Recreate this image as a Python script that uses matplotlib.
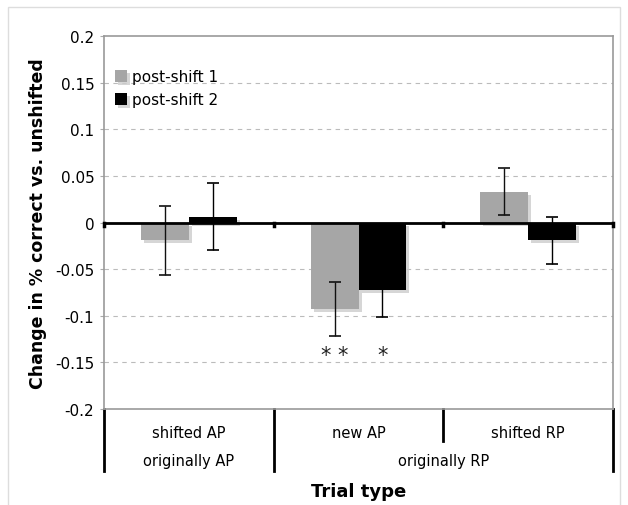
import numpy as np
import matplotlib
matplotlib.use('Agg')
import matplotlib.pyplot as plt
import matplotlib.patheffects as pe
from matplotlib.patches import Rectangle
from matplotlib.transforms import blended_transform_factory

plt.rcParams['font.family'] = ['DejaVu Sans']

trial_types = ['shifted AP', 'new AP', 'shifted RP']
origins = ['originally AP', 'originally RP']
series_names = ['post-shift 1', 'post-shift 2']
shift1 = [-0.019, -0.093, 0.033]
shift1_err = [0.037, 0.029, 0.025]
shift2 = [0.006, -0.072, -0.019]
shift2_err = [0.036, 0.029, 0.025]
stars1 = ['', '* *', '']
stars2 = ['', '*', '']

fig = plt.figure(figsize=(6.28, 5.06), dpi=100)
ax = fig.add_axes([104/628, 1-410/506, 509/628, 373/506])

x = np.arange(len(trial_types))
w = 0.282
shadow = [pe.SimplePatchShadow(offset=(2.2, -2.2), shadow_rgbFace='#cccccc', alpha=0.8), pe.Normal()]

b1 = ax.bar(x - w/2, shift1, w, color='#a6a6a6', label=series_names[0], zorder=3)
b2 = ax.bar(x + w/2, shift2, w, color='black', label=series_names[1], zorder=3)
for b in list(b1) + list(b2):
    b.set_path_effects(shadow)

ax.errorbar(x - w/2, shift1, yerr=shift1_err, fmt='none', ecolor='#111', elinewidth=1,
            capsize=4.5, capthick=1.2, zorder=4)
ax.errorbar(x + w/2, shift2, yerr=shift2_err, fmt='none', ecolor='black', elinewidth=1,
            capsize=4.5, capthick=1.2, zorder=4)

star_y = -0.142
for i in range(len(x)):
    if stars1[i]:
        ax.text(x[i] - w/2, star_y, stars1[i], ha='center', va='center', fontsize=15, color='#222')
    if stars2[i]:
        ax.text(x[i] + w/2, star_y, stars2[i], ha='center', va='center', fontsize=15, color='#222')

ax.set_xlim(-0.5, 2.5)
ax.set_ylim(-0.2, 0.2)
ax.set_yticks(np.arange(-0.2, 0.201, 0.05))
ax.set_yticklabels(['-0.2', '-0.15', '-0.1', '-0.05', '0', '0.05', '0.1', '0.15', '0.2'], fontsize=11)
ax.tick_params(axis='y', length=3, color='#aaa', pad=4)
ax.set_xticks([])
for yv in [-0.15, -0.1, -0.05, 0.05, 0.1, 0.15]:
    ax.axhline(yv, color='#bbb', lw=0.8, ls=(0, (4, 4)), zorder=1)
for s in ax.spines.values():
    s.set_color('#999')
    s.set_linewidth(1.2)

ax.axhline(0, color='black', lw=2, zorder=5)
for xb in [-0.5, 0.5, 1.5, 2.5]:
    ax.plot([xb, xb], [0, -0.004], color='black', lw=2.5, zorder=5, clip_on=False)

ax.set_ylabel('Change in % correct vs. unshifted', fontsize=12.5, fontweight='bold', labelpad=6)

# multi-level category axis
tr = blended_transform_factory(ax.transData, ax.transAxes)
for xb, yb in [(-0.5, -0.166), (0.5, -0.166), (1.5, -0.086), (2.5, -0.166)]:
    ax.plot([xb, xb], [0, yb], color='black', lw=2, transform=tr, clip_on=False)
for i, t in enumerate(trial_types):
    ax.text(x[i], -0.062, t, transform=tr, ha='center', va='center', fontsize=10.5)
ax.text(0, -0.139, origins[0], transform=tr, ha='center', va='center', fontsize=10.5)
ax.text(1.5, -0.139, origins[1], transform=tr, ha='center', va='center', fontsize=10.5)
ax.text(1.0, -0.22, 'Trial type', transform=tr, ha='center', va='center', fontsize=13,
        fontweight='bold')

leg = ax.legend(loc='upper left', bbox_to_anchor=(0.0, 0.94), frameon=False, fontsize=11,
                handlelength=0.8, handleheight=0.8, handletextpad=0.3, labelspacing=0.55,
                borderaxespad=0.3)

fig.patches.append(Rectangle((8/628, -0.05), 612/628, 1.05 - 8/506, transform=fig.transFigure,
                             fill=False, edgecolor='#dddddd', lw=1))

fig.savefig('out.png', dpi=100)
